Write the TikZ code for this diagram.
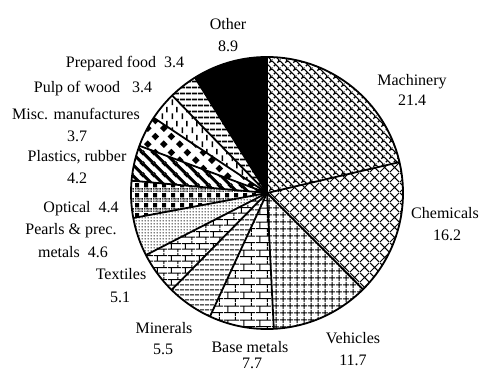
\documentclass[tikz,border=0pt]{standalone}
\usepackage{fontspec}
\setmainfont{Liberation Serif}
\usetikzlibrary{patterns}

% Machinery: weave-like
\pgfdeclarepatternformonly{pweave}{\pgfqpoint{0pt}{0pt}}{\pgfqpoint{8pt}{8pt}}{\pgfqpoint{8pt}{8pt}}{%
  \pgfsetlinewidth{1.3pt}%
  \pgfpathmoveto{\pgfqpoint{0pt}{8pt}}\pgfpathlineto{\pgfqpoint{8pt}{0pt}}%
  \pgfpathmoveto{\pgfqpoint{-1pt}{1pt}}\pgfpathlineto{\pgfqpoint{1pt}{-1pt}}%
  \pgfpathmoveto{\pgfqpoint{7pt}{9pt}}\pgfpathlineto{\pgfqpoint{9pt}{7pt}}%
  \pgfpathmoveto{\pgfqpoint{2pt}{2pt}}\pgfpathlineto{\pgfqpoint{4pt}{4pt}}%
  \pgfpathmoveto{\pgfqpoint{6pt}{6pt}}\pgfpathlineto{\pgfqpoint{8pt}{8pt}}%
  \pgfusepath{stroke}}
% Chemicals: diagonal crosshatch
\pgfdeclarepatternformonly{pchem}{\pgfqpoint{0pt}{0pt}}{\pgfqpoint{10pt}{10pt}}{\pgfqpoint{10pt}{10pt}}{%
  \pgfsetlinewidth{1.1pt}%
  \pgfpathmoveto{\pgfqpoint{0pt}{0pt}}\pgfpathlineto{\pgfqpoint{10pt}{10pt}}%
  \pgfpathmoveto{\pgfqpoint{0pt}{10pt}}\pgfpathlineto{\pgfqpoint{10pt}{0pt}}%
  \pgfusepath{stroke}}
% Vehicles: grid
\pgfdeclarepatternformonly{pgridv}{\pgfqpoint{0pt}{0pt}}{\pgfqpoint{7pt}{7pt}}{\pgfqpoint{7pt}{7pt}}{%
  \pgfsetlinewidth{1.1pt}%
  \pgfpathmoveto{\pgfqpoint{3.5pt}{0pt}}\pgfpathlineto{\pgfqpoint{3.5pt}{7pt}}%
  \pgfpathmoveto{\pgfqpoint{0pt}{3.5pt}}\pgfpathlineto{\pgfqpoint{7pt}{3.5pt}}%
  \pgfusepath{stroke}}
% Base metals: bricks
\pgfdeclarepatternformonly{pbrick}{\pgfqpoint{0pt}{0pt}}{\pgfqpoint{16pt}{14pt}}{\pgfqpoint{16pt}{14pt}}{%
  \pgfsetlinewidth{1.1pt}%
  \pgfpathmoveto{\pgfqpoint{0pt}{3.5pt}}\pgfpathlineto{\pgfqpoint{16pt}{3.5pt}}%
  \pgfpathmoveto{\pgfqpoint{0pt}{10.5pt}}\pgfpathlineto{\pgfqpoint{16pt}{10.5pt}}%
  \pgfpathmoveto{\pgfqpoint{4pt}{3.5pt}}\pgfpathlineto{\pgfqpoint{4pt}{10.5pt}}%
  \pgfpathmoveto{\pgfqpoint{12pt}{10.5pt}}\pgfpathlineto{\pgfqpoint{12pt}{14pt}}%
  \pgfpathmoveto{\pgfqpoint{12pt}{0pt}}\pgfpathlineto{\pgfqpoint{12pt}{3.5pt}}%
  \pgfusepath{stroke}}
% Minerals: horizontal lines
\pgfdeclarepatternformonly{phlines}{\pgfqpoint{0pt}{0pt}}{\pgfqpoint{5pt}{5pt}}{\pgfqpoint{5pt}{5pt}}{%
  \pgfsetlinewidth{1.2pt}%
  \pgfpathmoveto{\pgfqpoint{0pt}{2.5pt}}\pgfpathlineto{\pgfqpoint{5pt}{2.5pt}}%
  \pgfusepath{stroke}}
% Textiles: shingles
\pgfdeclarepatternformonly{pshingle}{\pgfqpoint{0pt}{0pt}}{\pgfqpoint{14pt}{12pt}}{\pgfqpoint{14pt}{12pt}}{%
  \pgfsetlinewidth{1.1pt}%
  \pgfpathmoveto{\pgfqpoint{0pt}{3pt}}%
  \pgfpathcurveto{\pgfqpoint{3pt}{5pt}}{\pgfqpoint{4pt}{1pt}}{\pgfqpoint{7pt}{3pt}}%
  \pgfpathcurveto{\pgfqpoint{10pt}{5pt}}{\pgfqpoint{11pt}{1pt}}{\pgfqpoint{14pt}{3pt}}%
  \pgfpathmoveto{\pgfqpoint{0pt}{9pt}}%
  \pgfpathcurveto{\pgfqpoint{3pt}{11pt}}{\pgfqpoint{4pt}{7pt}}{\pgfqpoint{7pt}{9pt}}%
  \pgfpathcurveto{\pgfqpoint{10pt}{11pt}}{\pgfqpoint{11pt}{7pt}}{\pgfqpoint{14pt}{9pt}}%
  \pgfpathmoveto{\pgfqpoint{3.5pt}{3.5pt}}%
  \pgfpathcurveto{\pgfqpoint{5pt}{5pt}}{\pgfqpoint{2pt}{7pt}}{\pgfqpoint{3.5pt}{8.5pt}}%
  \pgfpathmoveto{\pgfqpoint{10.5pt}{9.5pt}}\pgfpathlineto{\pgfqpoint{10.5pt}{12pt}}%
  \pgfpathmoveto{\pgfqpoint{10.5pt}{0pt}}\pgfpathlineto{\pgfqpoint{10.5pt}{2.5pt}}%
  \pgfusepath{stroke}}
% Pearls: fine dots
\pgfdeclarepatternformonly{pfinedots}{\pgfqpoint{0pt}{0pt}}{\pgfqpoint{3pt}{3pt}}{\pgfqpoint{3pt}{3pt}}{%
  \pgfpathcircle{\pgfqpoint{1.5pt}{1.5pt}}{0.95pt}%
  \pgfusepath{fill}}
% Optical: squares row + dotted row
\pgfdeclarepatternformonly{poptic}{\pgfqpoint{0pt}{0pt}}{\pgfqpoint{9pt}{10pt}}{\pgfqpoint{9pt}{10pt}}{%
  \pgfpathrectangle{\pgfqpoint{0pt}{5pt}}{\pgfqpoint{4.5pt}{4.5pt}}%
  \pgfpathcircle{\pgfqpoint{0.75pt}{0.75pt}}{0.55pt}\pgfpathcircle{\pgfqpoint{2.25pt}{0.75pt}}{0.55pt}%
  \pgfpathcircle{\pgfqpoint{3.75pt}{0.75pt}}{0.55pt}\pgfpathcircle{\pgfqpoint{5.25pt}{0.75pt}}{0.55pt}%
  \pgfpathcircle{\pgfqpoint{6.75pt}{0.75pt}}{0.55pt}\pgfpathcircle{\pgfqpoint{8.25pt}{0.75pt}}{0.55pt}%
  \pgfpathcircle{\pgfqpoint{0.75pt}{2.25pt}}{0.55pt}\pgfpathcircle{\pgfqpoint{2.25pt}{2.25pt}}{0.55pt}%
  \pgfpathcircle{\pgfqpoint{3.75pt}{2.25pt}}{0.55pt}\pgfpathcircle{\pgfqpoint{5.25pt}{2.25pt}}{0.55pt}%
  \pgfpathcircle{\pgfqpoint{6.75pt}{2.25pt}}{0.55pt}\pgfpathcircle{\pgfqpoint{8.25pt}{2.25pt}}{0.55pt}%
  \pgfpathcircle{\pgfqpoint{0.75pt}{3.75pt}}{0.55pt}\pgfpathcircle{\pgfqpoint{2.25pt}{3.75pt}}{0.55pt}%
  \pgfpathcircle{\pgfqpoint{3.75pt}{3.75pt}}{0.55pt}\pgfpathcircle{\pgfqpoint{5.25pt}{3.75pt}}{0.55pt}%
  \pgfpathcircle{\pgfqpoint{6.75pt}{3.75pt}}{0.55pt}\pgfpathcircle{\pgfqpoint{8.25pt}{3.75pt}}{0.55pt}%
  \pgfusepath{fill}}
% Plastics: wide downward diagonal
\pgfdeclarepatternformonly{pwdiag}{\pgfqpoint{0pt}{0pt}}{\pgfqpoint{11pt}{11pt}}{\pgfqpoint{11pt}{11pt}}{%
  \pgfsetlinewidth{3.2pt}%
  \pgfpathmoveto{\pgfqpoint{0pt}{11pt}}\pgfpathlineto{\pgfqpoint{11pt}{0pt}}%
  \pgfpathmoveto{\pgfqpoint{-2pt}{2pt}}\pgfpathlineto{\pgfqpoint{2pt}{-2pt}}%
  \pgfpathmoveto{\pgfqpoint{9pt}{13pt}}\pgfpathlineto{\pgfqpoint{13pt}{9pt}}%
  \pgfusepath{stroke}}
% Misc: diamonds
\pgfdeclarepatternformonly{pdiam}{\pgfqpoint{0pt}{0pt}}{\pgfqpoint{16pt}{16pt}}{\pgfqpoint{16pt}{16pt}}{%
  \pgfpathmoveto{\pgfqpoint{0pt}{4pt}}\pgfpathlineto{\pgfqpoint{4pt}{8pt}}%
  \pgfpathlineto{\pgfqpoint{8pt}{4pt}}\pgfpathlineto{\pgfqpoint{4pt}{0pt}}\pgfpathclose
  \pgfpathmoveto{\pgfqpoint{8pt}{12pt}}\pgfpathlineto{\pgfqpoint{12pt}{16pt}}%
  \pgfpathlineto{\pgfqpoint{16pt}{12pt}}\pgfpathlineto{\pgfqpoint{12pt}{8pt}}\pgfpathclose
  \pgfusepath{fill}}
% Pulp: dashed vertical
\pgfdeclarepatternformonly{pdashv}{\pgfqpoint{0pt}{0pt}}{\pgfqpoint{10pt}{14pt}}{\pgfqpoint{10pt}{14pt}}{%
  \pgfsetlinewidth{1.6pt}%
  \pgfpathmoveto{\pgfqpoint{2.5pt}{1pt}}\pgfpathlineto{\pgfqpoint{2.5pt}{7pt}}%
  \pgfpathmoveto{\pgfqpoint{7.5pt}{8pt}}\pgfpathlineto{\pgfqpoint{7.5pt}{14pt}}%
  \pgfusepath{stroke}}
% Prepared food: thick horizontal stripes
\pgfdeclarepatternformonly{pstripes}{\pgfqpoint{0pt}{0pt}}{\pgfqpoint{6pt}{6pt}}{\pgfqpoint{6pt}{6pt}}{%
  \pgfsetlinewidth{2pt}%
  \pgfpathmoveto{\pgfqpoint{0pt}{3pt}}\pgfpathlineto{\pgfqpoint{6pt}{3pt}}%
  \pgfusepath{stroke}}

\begin{document}
\begin{tikzpicture}[x=1pt,y=1pt,
  lab/.style={font=\fontsize{16}{19}\selectfont, inner sep=0pt, anchor=base},
  sliceline/.style={draw=black, line width=1.8pt, line join=round}]
\useasboundingbox (0,0) rectangle (482,372);
\fill[white] (0,0) rectangle (482,372);
\coordinate (C) at (267,179);
\def\R{136}
\foreach \a/\b/\p in {90/13.114/pweave, 13.114/-45.09/pchem, -45.09/-87.126/pgridv,
  -87.126/-114.79/pbrick, -114.79/-134.55/phlines, -134.55/-152.87/pshingle,
  -152.87/-169.40/pfinedots, -169.40/-185.21/poptic, -185.21/-200.30/pwdiag,
  -200.30/-213.59/pdiam, -213.59/-225.81/pdashv, -225.81/-238.02/pstripes}{
  \fill[pattern=\p] (C) -- +(\a:\R) arc[start angle=\a, end angle=\b, radius=\R] -- cycle;
}
\fill[black] (C) -- +(-238.02:\R) arc[start angle=-238.02, end angle=-270, radius=\R] -- cycle;
\foreach \a in {90,13.114,-45.09,-87.126,-114.79,-134.55,-152.87,-169.40,-185.21,-200.30,-213.59,-225.81,-238.02}{
  \draw[sliceline] (C) -- +(\a:\R);
}
\draw[sliceline] (C) circle[radius=\R];

\node[lab] (tOther) at (228,342) {Other};
\node[lab] (vOther) at (228,320) {8.9};
\node[lab] (tFood) at (125,304) {Prepared food\ \ 3.4};
\node[lab] (tPulp) at (93,279) {Pulp of wood\ \ \ 3.4};
\node[lab] (tMisc) at (76,252) {Misc. manufactures};
\node[lab] (vMisc) at (77,230) {3.7};
\node[lab] (tPlast) at (77,210) {Plastics, rubber};
\node[lab] (vPlast) at (77,188) {4.2};
\node[lab] (tOpt) at (81,159) {Optical\ \ 4.4};
\node[lab] (tPearl) at (71,137) {Pearls \& prec.};
\node[lab] (vPearl) at (73,114) {metals\ \ 4.6};
\node[lab] (tText) at (121,92) {Textiles};
\node[lab] (vText) at (120,69) {5.1};
\node[lab] (tMin) at (164,38) {Minerals};
\node[lab] (vMin) at (163,17) {5.5};
\node[lab] (tBase) at (250,19) {Base metals};
\node[lab] (vBase) at (252,3) {7.7};
\node[lab] (tVeh) at (353,28) {Vehicles};
\node[lab] (vVeh) at (353,6) {11.7};
\node[lab] (tChem) at (445,153) {Chemicals};
\node[lab] (vChem) at (447,131) {16.2};
\node[lab] (tMach) at (412,286) {Machinery};
\node[lab] (vMach) at (412,266) {21.4};
\end{tikzpicture}
\end{document}
